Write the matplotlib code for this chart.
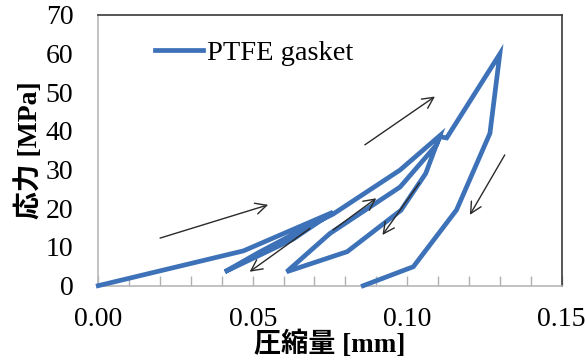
import matplotlib.pyplot as plt
from matplotlib.ticker import MultipleLocator

plt.rcParams['font.family'] = ['Liberation Serif', 'Noto Sans CJK JP']

# compression [mm] and stress [MPa] along the loading/unloading path
strain = [0.000, 0.047, 0.076, 0.063, 0.041, 0.052, 0.066, 0.076, 0.0977, 0.1106,
          0.106, 0.098, 0.0806, 0.061, 0.075, 0.0977, 0.1095, 0.1106, 0.1128,
          0.130, 0.1268, 0.116, 0.102, 0.0858]
stress = [0.0, 9.0, 19.0, 12.0, 3.6, 8.6, 14.5, 18.5, 29.9, 38.8,
          29.0, 19.5, 8.8, 3.6, 13.5, 25.5, 36.4, 38.5, 38.2,
          59.9, 39.4, 19.6, 4.9, 0.0]

# direction arrows: (tail x, tail y, head x, head y)
arrows = [
    (0.020, 12.3, 0.055, 20.9),
    (0.0685, 14.8, 0.049, 3.6),
    (0.076, 14.4, 0.090, 22.6),
    (0.104, 26.6, 0.092, 13.1),
    (0.0863, 36.4, 0.109, 48.9),
    (0.1316, 33.8, 0.1203, 18.3),
]

xticks = [0.00, 0.05, 0.10, 0.15]
yticks = [0, 10, 20, 30, 40, 50, 60, 70]

fig = plt.figure(figsize=(5.85, 3.63), dpi=100)
ax = fig.add_axes([0.168, 0.213, 0.792, 0.746])

ax.plot(strain, stress, color='#3d72b8', lw=3.4, solid_joinstyle='miter',
        clip_on=False, label='PTFE gasket', zorder=3)

for x0, y0, x1, y1 in arrows:
    ax.annotate('', xy=(x1, y1), xytext=(x0, y0),
                arrowprops=dict(arrowstyle='->', color='#2a2a2a', lw=1.0,
                                mutation_scale=20, shrinkA=0, shrinkB=0),
                zorder=4)

ax.set_xlim(0, 0.15)
ax.set_ylim(0, 70)
ax.set_xticks(xticks)
ax.set_xticklabels(['%.2f' % v for v in xticks])
ax.set_yticks(yticks)
ax.xaxis.set_minor_locator(MultipleLocator(0.01))

ax.tick_params(axis='x', which='both', direction='in', length=7, width=1,
               color='#b0b0b0', pad=15, labelsize=20)
ax.tick_params(axis='y', which='both', length=0, pad=18, labelsize=20)

for side in ['left', 'bottom']:
    ax.spines[side].set_color('#b8b8b8')
    ax.spines[side].set_linewidth(1.2)
for side in ['top', 'right']:
    ax.spines[side].set_color('#3a3a3a')
    ax.spines[side].set_linewidth(1.2)

ax.set_xlabel('圧縮量 [mm]', fontsize=19.5, fontweight='bold', labelpad=-1)
ax.set_ylabel('応力 [MPa]', fontsize=20, fontweight='bold', labelpad=2)

ax.legend(loc='center left', bbox_to_anchor=(0.122, 0.858), frameon=False,
          fontsize=20.5, handlelength=1.7, handletextpad=0.15,
          borderpad=0, borderaxespad=0)

fig.savefig('out.png', dpi=100)
